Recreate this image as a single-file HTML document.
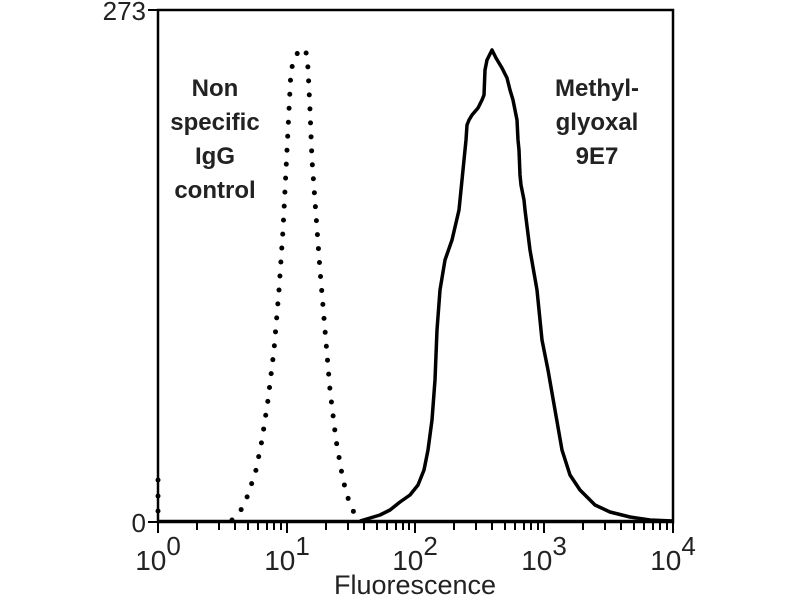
<!DOCTYPE html>
<html><head><meta charset="utf-8"><style>
html,body{margin:0;padding:0;background:#fff;}
svg{display:block;}
text{font-family:"Liberation Sans",sans-serif;fill:#222;}
</style></head><body>
<svg width="800" height="600" viewBox="0 0 800 600" xmlns="http://www.w3.org/2000/svg">
<rect width="800" height="600" fill="#fff"/>
<rect x="158" y="10" width="515" height="512" fill="none" stroke="#000" stroke-width="2.5"/>
<line x1="148" y1="10" x2="158" y2="10" stroke="#000" stroke-width="2"/>
<line x1="148" y1="522" x2="158" y2="522" stroke="#000" stroke-width="2"/>
<g stroke="#000" stroke-width="2">
<line x1="158" y1="522" x2="158" y2="533"/>
<line x1="287" y1="522" x2="287" y2="533"/>
<line x1="415" y1="522" x2="415" y2="533"/>
<line x1="544" y1="522" x2="544" y2="533"/>
<line x1="673" y1="522" x2="673" y2="533"/>
</g>
<g stroke="#000" stroke-width="2">
<line x1="197" y1="522" x2="197" y2="530"/><line x1="219" y1="522" x2="219" y2="530"/><line x1="235" y1="522" x2="235" y2="530"/><line x1="248" y1="522" x2="248" y2="530"/><line x1="258" y1="522" x2="258" y2="530"/><line x1="267" y1="522" x2="267" y2="530"/><line x1="274" y1="522" x2="274" y2="530"/><line x1="281" y1="522" x2="281" y2="530"/>
<line x1="326" y1="522" x2="326" y2="530"/><line x1="348" y1="522" x2="348" y2="530"/><line x1="364" y1="522" x2="364" y2="530"/><line x1="377" y1="522" x2="377" y2="530"/><line x1="387" y1="522" x2="387" y2="530"/><line x1="396" y1="522" x2="396" y2="530"/><line x1="403" y1="522" x2="403" y2="530"/><line x1="409" y1="522" x2="409" y2="530"/>
<line x1="454" y1="522" x2="454" y2="530"/><line x1="476" y1="522" x2="476" y2="530"/><line x1="492" y1="522" x2="492" y2="530"/><line x1="505" y1="522" x2="505" y2="530"/><line x1="515" y1="522" x2="515" y2="530"/><line x1="524" y1="522" x2="524" y2="530"/><line x1="531" y1="522" x2="531" y2="530"/><line x1="538" y1="522" x2="538" y2="530"/>
<line x1="583" y1="522" x2="583" y2="530"/><line x1="605" y1="522" x2="605" y2="530"/><line x1="621" y1="522" x2="621" y2="530"/><line x1="634" y1="522" x2="634" y2="530"/><line x1="644" y1="522" x2="644" y2="530"/><line x1="653" y1="522" x2="653" y2="530"/><line x1="660" y1="522" x2="660" y2="530"/><line x1="667" y1="522" x2="667" y2="530"/>
</g>
<text x="146" y="20" font-size="26" text-anchor="end">273</text>
<text x="146" y="532" font-size="26" text-anchor="end">0</text>
<g font-size="28" text-anchor="middle">
<text x="158" y="570">10<tspan dy="-15" font-size="26">0</tspan></text>
<text x="287" y="570">10<tspan dy="-15" font-size="26">1</tspan></text>
<text x="415" y="570">10<tspan dy="-15" font-size="26">2</tspan></text>
<text x="544" y="570">10<tspan dy="-15" font-size="26">3</tspan></text>
<text x="673" y="570">10<tspan dy="-15" font-size="26">4</tspan></text>
</g>
<text x="415" y="594" font-size="27" text-anchor="middle">Fluorescence</text>
<g fill="#000"><circle cx="158" cy="480" r="2.5"/><circle cx="158" cy="496" r="2.5"/><circle cx="158" cy="511" r="2.5"/></g>
<polyline fill="none" stroke="#000" stroke-width="5" stroke-linecap="round" stroke-dasharray="0 14"
points="232,520 240,512 248,495 256,470 262,440 268,400 274,350 279,290 283,230 286,170 289,110 291,70 296,55 302,48 306,52 308,68 310,110 312,160 316,215 320,270 325,330 330,390 336,440 343,480 350,505 358,520"/>
<line x1="158" y1="521" x2="673" y2="521" stroke="#000" stroke-width="2.5"/>
<polyline fill="none" stroke="#000" stroke-width="3.5" stroke-linejoin="round"
points="360,521 370,518 380,515 390,510 400,502 410,495 418,485 424,470 428,450 432,420 435,380 437,330 440,290 445,260 452,240 459,210 460,200 462,180 464,160 466,140 467,125 469,120 472,115 478,108 482,100 484,95 485,70 487,60 492,50 496,58 502,68 507,78 510,90 513,100 515,110 517,120 518,140 519,150 520,175 521,185 524,200 525,210 530,250 537,290 542,340 548,370 555,410 562,450 570,475 580,490 595,505 610,512 630,517 650,520 673,521"/>
<g font-size="24" font-weight="bold" text-anchor="middle" style="fill:#333">
<text x="215" y="96">Non</text>
<text x="215" y="130">specific</text>
<text x="215" y="164">IgG</text>
<text x="215" y="198">control</text>
<text x="597" y="96">Methyl-</text>
<text x="597" y="130">glyoxal</text>
<text x="597" y="164">9E7</text>
</g>
</svg>
</body></html>
